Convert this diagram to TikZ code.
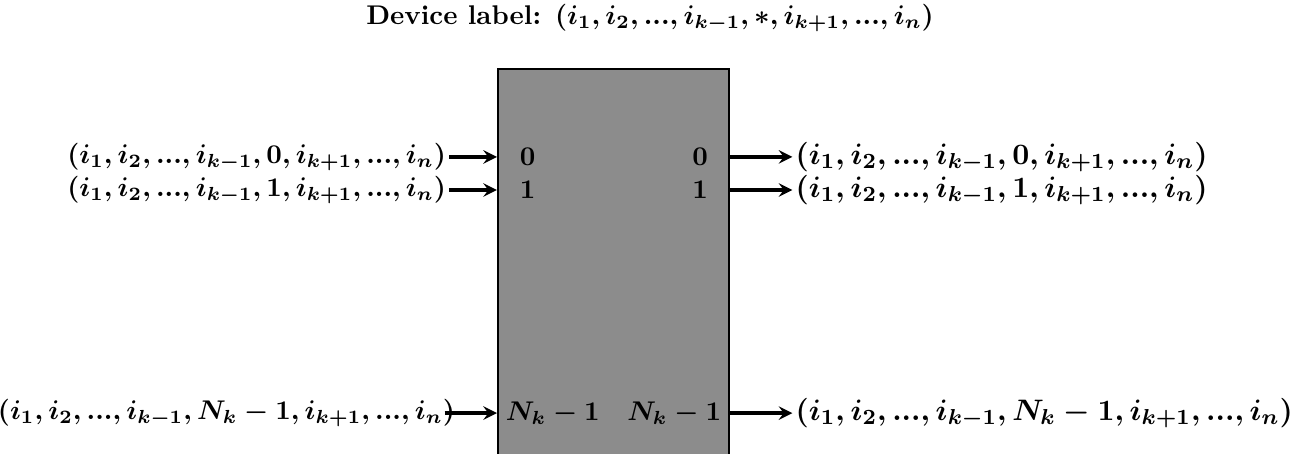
\documentclass[tikz,border=0pt]{standalone}
\usepackage{amsmath}
\usepackage{amssymb}
\usetikzlibrary{arrows, positioning}

\begin{document}
\begin{tikzpicture}[
        >=stealth,
        device/.style={rectangle, draw=black, fill=black!45, line width=0.9pt, anchor=north west, minimum width=3.0cm, minimum height=5.1cm, inner sep=0pt},
        port/.style={inner sep=0pt, font=\boldmath},
        tuple/.style={inner sep=1pt, font=\boldmath},
        outtuple/.style={inner sep=1pt, font=\boldmath\fontsize{11}{13}\selectfont},
        link/.style={->, line width=1.2pt}
    ]
    \useasboundingbox (0,0) rectangle (16.86,-5.89);

    % Device label
    \node[font=\bfseries\boldmath] (title) at (8.45,-0.24) {Device label: $(i_1,i_2,...,i_{k-1},*,i_{k+1},...,i_n)$};

    % Device
    \node[device] (dev) at (6.46,-0.88) {};

    % Input ports
    \node[port] (in0) at (6.86,-2.04) {$0$};
    \node[port] (in1) at (6.86,-2.47) {$1$};
    \node[port, anchor=west] (inN) at (6.57,-5.37) {$N_k-1$};

    % Output ports
    \node[port] (out0) at (9.10,-2.04) {$0$};
    \node[port] (out1) at (9.10,-2.47) {$1$};
    \node[port, anchor=east] (outN) at (9.38,-5.37) {$N_k-1$};

    % Incoming tuples
    \node[tuple, anchor=east] (a0) at (5.84,-2.04) {$(i_1,i_2,...,i_{k-1},0,i_{k+1},...,i_n)$};
    \node[tuple, anchor=east] (a1) at (5.84,-2.47) {$(i_1,i_2,...,i_{k-1},1,i_{k+1},...,i_n)$};
    \node[tuple, anchor=east, inner sep=0pt] (aN) at (5.92,-5.37) {$(i_1,i_2,...,i_{k-1},N_k-1,i_{k+1},...,i_n)$};

    % Outgoing tuples
    \node[outtuple, anchor=west] (b0) at (10.30,-2.04) {$(i_1,i_2,...,i_{k-1},0,i_{k+1},...,i_n)$};
    \node[outtuple, anchor=west] (b1) at (10.30,-2.47) {$(i_1,i_2,...,i_{k-1},1,i_{k+1},...,i_n)$};
    \node[outtuple, anchor=west] (bN) at (10.30,-5.37) {$(i_1,i_2,...,i_{k-1},N_k-1,i_{k+1},...,i_n)$};

    % Arrows
    \draw[link] (a0) -- (dev.west |- a0);
    \draw[link] (a1) -- (dev.west |- a1);
    \draw[link, shorten <=-4pt] (aN) -- (dev.west |- aN);
    \draw[link] (dev.east |- b0) -- (b0);
    \draw[link] (dev.east |- b1) -- (b1);
    \draw[link] (dev.east |- bN) -- (bN);

    \end{tikzpicture}
\end{document}
